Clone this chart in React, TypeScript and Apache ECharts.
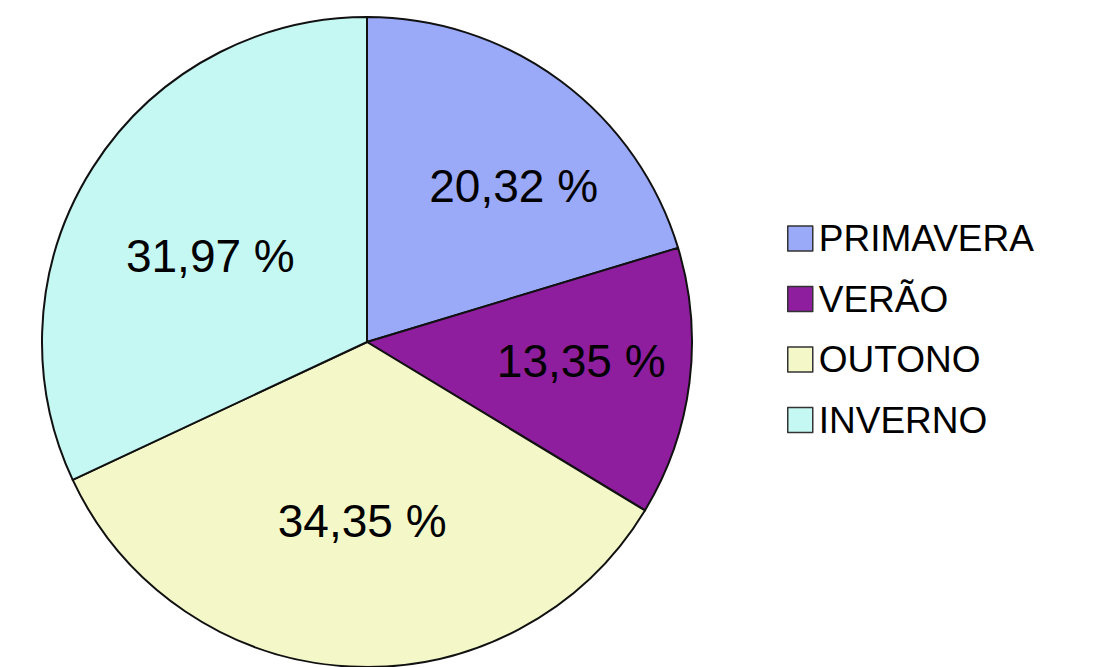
import React, { useEffect, useRef } from "react";
import * as echarts from "echarts";

const categories = ["PRIMAVERA", "VERÃO", "OUTONO", "INVERNO"];
const values = [20.32, 13.35, 34.35, 31.97];
const colors = ["#9aa9f8", "#8e1e9e", "#f4f8c8", "#c6f8f3"];

// label nudges (Excel-style label placement) relative to ECharts' inside position
const labelNudge = [
  [48, -23],
  [50, -2],
  [4, 14],
  [-17, 3],
];

const fmt = (v: number) => v.toFixed(2).replace(".", ",") + " %";

export default function App() {
  const ref = useRef<HTMLDivElement>(null);
  useEffect(() => {
    if (!ref.current) return;
    const chart = echarts.init(ref.current, undefined, { renderer: "svg" });
    chart.setOption({
      animation: false,
      backgroundColor: "#ffffff",
      legend: {
        orient: "vertical",
        left: 782,
        top: 215,
        icon: "rect",
        itemWidth: 25,
        itemHeight: 25,
        itemGap: 23.5,
        itemStyle: { borderColor: "#333333", borderWidth: 1.5 },
        textStyle: {
          fontFamily: "Liberation Sans, Arial, sans-serif",
          fontSize: 37,
          lineHeight: 36,
          color: "#000000",
          padding: [0, 0, 0, 1],
        },
        data: categories,
      },
      series: [
        {
          type: "pie",
          center: [367, 342],
          radius: 325,
          startAngle: 90,
          clockwise: true,
          avoidLabelOverlap: false,
          silent: true,
          itemStyle: { borderColor: "#111111", borderWidth: 2 },
          label: {
            show: true,
            position: "inside",
            fontFamily: "Liberation Sans, Arial, sans-serif",
            fontSize: 46,
            color: "#000000",
            formatter: (p: any) => fmt(p.value),
          },
          labelLine: { show: false },
          labelLayout: (p: any) => ({
            dx: labelNudge[p.dataIndex][0],
            dy: labelNudge[p.dataIndex][1],
          }),
          data: categories.map((name, i) => ({
            name,
            value: values[i],
            itemStyle: { color: colors[i] },
          })),
        },
      ],
    });
    return () => chart.dispose();
  }, []);
  return (
    <div
      ref={ref}
      style={{ position: "fixed", left: 0, top: 0, width: 1093, height: 667 }}
    />
  );
}
